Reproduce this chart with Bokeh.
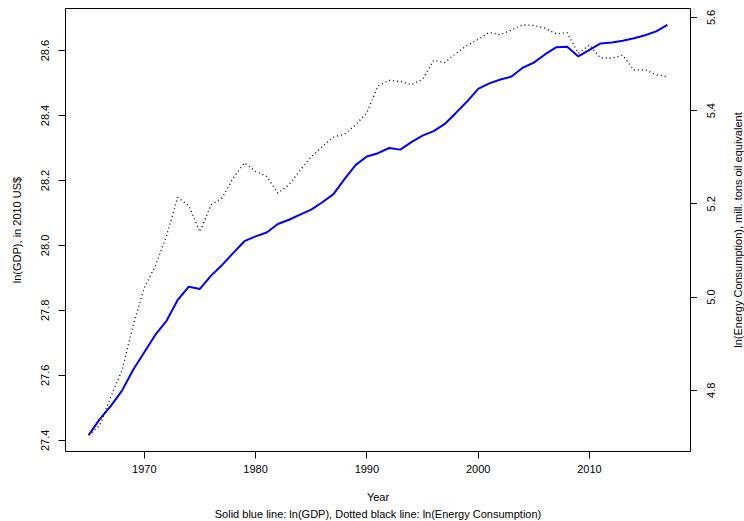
import math
from bokeh.plotting import figure
from bokeh.layouts import row
from bokeh.models import (Range1d, LinearAxis, FixedTicker, PrintfTickFormatter, Title,
                          CustomJSTickFormatter)
from bokeh.core.properties import value
from bokeh.embed import file_html
from bokeh.resources import INLINE

# ---- data ----
years = list(range(1965, 2018))
gdp = [27.416, 27.465, 27.506, 27.553, 27.617, 27.671, 27.725, 27.768, 27.832, 27.873,
       27.866, 27.907, 27.940, 27.977, 28.013, 28.028, 28.040, 28.066, 28.079, 28.095,
       28.110, 28.133, 28.158, 28.205, 28.248, 28.274, 28.284, 28.300, 28.295, 28.318,
       28.338, 28.352, 28.374, 28.408, 28.443, 28.482, 28.499, 28.511, 28.520, 28.547,
       28.563, 28.588, 28.610, 28.612, 28.582, 28.602, 28.622, 28.625, 28.630, 28.638,
       28.647, 28.659, 28.679]
energy = [4.704, 4.725, 4.787, 4.843, 4.940, 5.020, 5.067, 5.132, 5.214, 5.196,
          5.140, 5.198, 5.213, 5.256, 5.288, 5.270, 5.259, 5.223, 5.241, 5.272,
          5.301, 5.323, 5.343, 5.350, 5.370, 5.396, 5.453, 5.465, 5.463, 5.456,
          5.467, 5.508, 5.503, 5.523, 5.540, 5.553, 5.568, 5.563, 5.573, 5.584,
          5.583, 5.577, 5.565, 5.567, 5.523, 5.541, 5.513, 5.513, 5.519, 5.487,
          5.488, 5.477, 5.473]
x_ticks = [1970, 1980, 1990, 2000, 2010]
gdp_ticks = [27.4, 27.6, 27.8, 28.0, 28.2, 28.4, 28.6]
energy_ticks = [4.8, 5.0, 5.2, 5.4, 5.6]
energy_tick_labels = ["4.8", "5.0", "5.2", "5.4", "5.6"]

x_title = "Year"
left_title = "ln(GDP), in 2010 US$"
right_title = "ln(Energy Consumption), mill. tons oil equivalent"
sub_title = "Solid blue line: ln(GDP), Dotted black line: ln(Energy Consumption)"

FONT = "Liberation Sans"
FS = "11px"


def padded(vals):
    lo, hi = min(vals), max(vals)
    d = 0.04 * (hi - lo)
    return lo - d, hi + d


x0, x1 = padded(years)
e0, e1 = padded(energy)
energy_range = Range1d(e0, e1)

# ---- main plot ----
p = figure(width=697, height=521, output_backend="svg", toolbar_location=None,
           x_range=Range1d(x0, x1), y_range=Range1d(*padded(gdp)),
           min_border_left=65, min_border_right=7, min_border_top=8, min_border_bottom=70)
p.extra_y_ranges = {"energy": energy_range}
p.grid.visible = False
p.outline_line_color = "black"
p.outline_line_width = 1
p.background_fill_color = "white"
p.border_fill_color = "white"

p.line(years, gdp, line_color="blue", line_width=2)
p.line(years, energy, line_color="black", line_width=1.3, line_dash="1 3",
       y_range_name="energy")

right = LinearAxis(y_range_name="energy")
p.add_layout(right, "right")


def style(ax):
    ax.axis_line_color = None
    ax.major_tick_line_color = "black"
    ax.major_tick_out = 7
    ax.major_tick_in = 0
    ax.minor_tick_line_color = None
    ax.major_label_text_font = FONT
    ax.major_label_text_font_size = FS
    ax.major_label_text_color = "black"
    ax.axis_label_text_font = FONT
    ax.axis_label_text_font_size = FS
    ax.axis_label_text_font_style = "normal"
    ax.axis_label_text_color = "black"


xa = p.xaxis[0]
ya = p.yaxis[0]
for ax in (xa, ya, right):
    style(ax)

xa.ticker = FixedTicker(ticks=x_ticks)
xa.axis_label = x_title
xa.major_label_standoff = 6
xa.axis_label_standoff = 15

ya.ticker = FixedTicker(ticks=gdp_ticks)
ya.formatter = PrintfTickFormatter(format="%.1f")
ya.major_label_orientation = "vertical"
ya.axis_label = left_title
ya.major_label_standoff = 9
ya.axis_label_standoff = 16

# right axis: tick marks here; its labels (bottom-to-top, as in R) are drawn in the strip
right.ticker = FixedTicker(ticks=energy_ticks)
right.formatter = CustomJSTickFormatter(code="return ''")
right.major_label_standoff = 0

sub = Title(text=sub_title, align="center", text_font=FONT, text_font_size=FS,
            text_font_style="normal", text_color="black", standoff=0)
p.add_layout(sub, "below")

# ---- right strip sharing the energy scale, for the right-hand labels ----
STRIP_W = 47
q = figure(width=STRIP_W, height=521, output_backend="svg", toolbar_location=None,
           x_range=Range1d(0, STRIP_W), y_range=energy_range,
           min_border_left=0, min_border_right=0, min_border_top=8, min_border_bottom=70,
           x_axis_location=None, y_axis_location=None)
q.grid.visible = False
q.outline_line_color = None
q.background_fill_color = "white"
q.border_fill_color = "white"
q.text(x=[13] * len(energy_ticks), y=energy_ticks, text=energy_tick_labels,
       angle=math.pi / 2, text_align="center", text_baseline="middle",
       text_font=value(FONT), text_font_size=FS, text_color="black")
q.text(x=[40], y=[(e0 + e1) / 2], text=[right_title],
       angle=math.pi / 2, text_align="center", text_baseline="middle",
       text_font=value(FONT), text_font_size=FS, text_color="black")

layout = row(p, q)
open("out.html", "w").write(file_html(layout, INLINE))
